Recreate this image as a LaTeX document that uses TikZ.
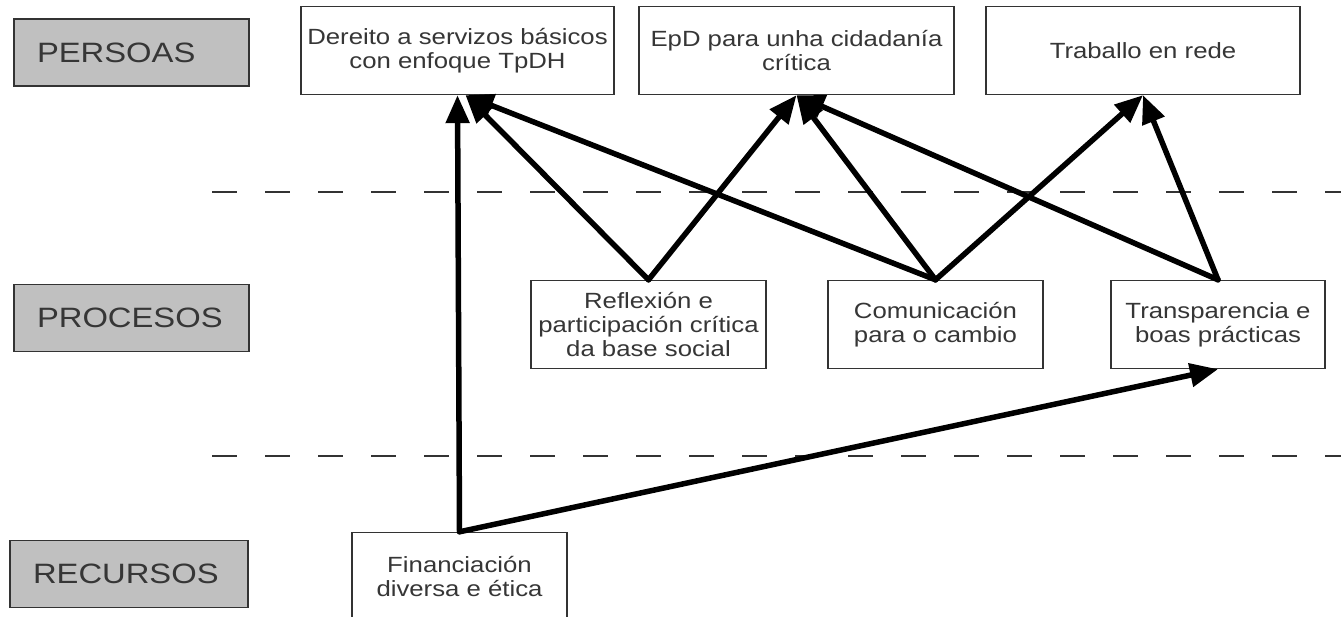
\documentclass[tikz,border=0pt]{standalone}
\usepackage{fontspec}
\newfontfamily\boxfont{Liberation Sans}[FakeStretch=1.17]
\usetikzlibrary{arrows.meta}
\definecolor{txtgray}{HTML}{363636}
\definecolor{lblgray}{HTML}{C0C0C0}

\begin{document}
\begin{tikzpicture}[x=1pt,y=-1pt]
        \tikzstyle{every node}+=[inner sep=0pt]
        \tikzstyle{band}=[draw=black!80, line width=1.4pt, fill=lblgray, text=txtgray, font=\boxfont\fontsize{28}{30}\selectfont, text width=189pt, inner xsep=23pt, align=left, minimum height=67pt]
        \tikzstyle{goal}=[draw=black!80, line width=1.4pt, fill=white, text=txtgray, font=\boxfont\fontsize{22}{24}\selectfont, align=center, minimum height=88pt]
        \tikzstyle{link}=[line width=5.5pt, line cap=round, -{Triangle[length=28pt,width=23pt]}]
        \tikzstyle{divider}=[line width=1.3pt, black!80, dash pattern=on 25pt off 28pt]
        \useasboundingbox (0,0) rectangle (1341,617);
        \clip (0,0) rectangle (1341,617);
        \fill [white] (0,0) rectangle (1341,617);
        \draw [divider] (212,192) -- (1341,192);
        \draw [divider] (212,456) -- (1341,456);
        \node (persoas) at (131.5,52.5) [band] {PERSOAS};
        \node (procesos) at (131.5,318) [band] {PROCESOS};
        \node (recursos) at (129,574) [band, text width=192pt] {RECURSOS};
        \node (dereito) at (457.5,50.5) [goal, minimum width=313pt] {Dereito a servizos básicos\\con enfoque TpDH};
        \node (epd) at (796.5,50.5) [goal, minimum width=315pt] {EpD para unha cidadanía\\crítica};
        \node (rede) at (1143,50.5) [goal, minimum width=314pt] {Traballo en rede};
        \node (reflex) at (648.5,324.5) [goal, minimum width=235pt] {Reflexión e\\participación crítica\\da base social};
        \node (comun) at (935.5,324.5) [goal, minimum width=215pt] {Comunicación\\para o cambio};
        \node (transp) at (1218,324.5) [goal, minimum width=214pt] {Transparencia e\\boas prácticas};
        \node (fin) at (459.5,576.5) [goal, minimum width=215pt] {Financiación\\diversa e ética};
        \draw [link] (fin.north) -- (dereito.south);
        \draw [link] (fin.north) -- (transp.south);
        \draw [link] (reflex.north) -- ([xshift=8pt]dereito.south);
        \draw [link] (reflex.north) -- (epd.south);
        \draw [link] (comun.north) -- ([xshift=8pt]dereito.south);
        \draw [link] (comun.north) -- (epd.south);
        \draw [link] (comun.north) -- (rede.south);
        \draw [link] (transp.north) -- (epd.south);
        \draw [link] (transp.north) -- (rede.south);
\end{tikzpicture}
\end{document}
